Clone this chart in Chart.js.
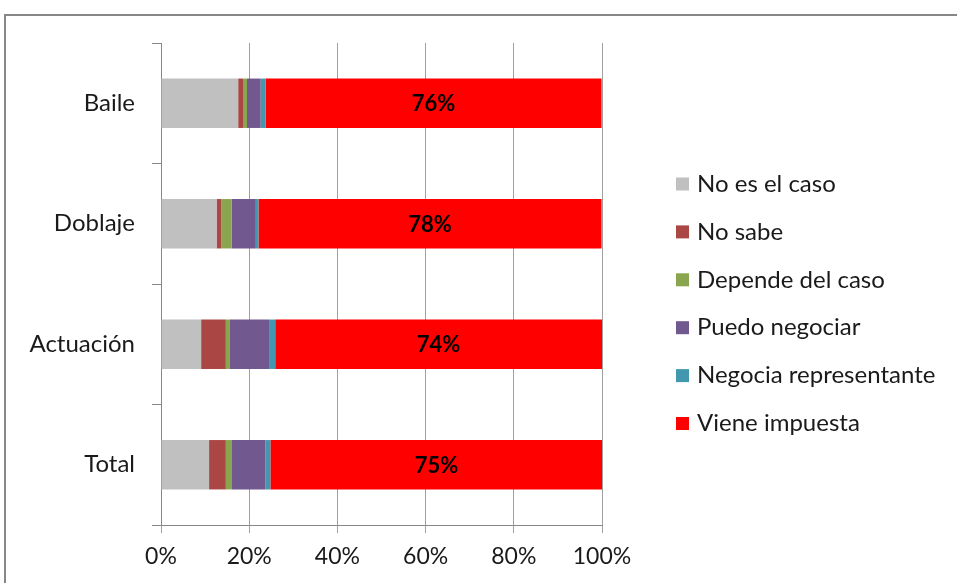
<!DOCTYPE html>
<html>
<head>
<meta charset="utf-8">
<script src="https://cdn.jsdelivr.net/npm/chart.js@4/dist/chart.umd.min.js"></script>
<style>
  html, body { margin: 0; padding: 0; background: #ffffff; overflow: hidden; }
  #wrap { position: absolute; left: 0; top: 0; width: 957px; height: 583px; }
</style>
</head>
<body>
<div id="wrap"><canvas id="c" width="957" height="583"></canvas></div>
<script>
const categories = ['Baile', 'Doblaje', 'Actuación', 'Total'];
const seriesNames = ['No es el caso', 'No sabe', 'Depende del caso', 'Puedo negociar', 'Negocia representante', 'Viene impuesta'];
const noEsElCaso = [17.5, 12.6, 9.1, 10.9];
const noSabe = [1.1, 1.1, 5.6, 3.8];
const dependeDelCaso = [0.9, 2.3, 0.8, 1.4];
const puedoNegociar = [3.1, 5.5, 9.0, 7.6];
const negociaRepresentante = [1.1, 0.6, 1.4, 1.1];
const vieneImpuesta = [76.2, 77.8, 74.1, 75.3];
const xTickValues = [0, 20, 40, 60, 80, 100];

const seriesValues = [noEsElCaso, noSabe, dependeDelCaso, puedoNegociar, negociaRepresentante, vieneImpuesta];
const seriesColors = ['#C0C0C0', '#AA4643', '#89A54E', '#71588F', '#4198AF', '#FF0000'];
const FONT = 'Lato, "Liberation Sans", sans-serif';

const frame = {
  id: 'frame',
  beforeDraw(chart) {
    const ctx = chart.ctx;
    ctx.save();
    ctx.strokeStyle = '#878787';
    ctx.lineWidth = 2;
    ctx.strokeRect(5, 15, 1100, 1100);
    ctx.restore();
  }
};

const barLabels = {
  id: 'barLabels',
  afterDatasetsDraw(chart) {
    const ctx = chart.ctx;
    const idx = chart.data.datasets.length - 1;
    const meta = chart.getDatasetMeta(idx);
    ctx.save();
    ctx.font = 'bold 22px ' + FONT;
    ctx.fillStyle = '#000000';
    ctx.textAlign = 'center';
    ctx.textBaseline = 'middle';
    meta.data.forEach((el, i) => {
      const p = el.getProps(['x', 'y', 'base'], true);
      const v = chart.data.datasets[idx].data[i];
      ctx.fillText(Math.round(v) + '%', (p.x + p.base) / 2, p.y + 1);
    });
    ctx.restore();
  }
};

const legendBox = {
  id: 'legendBox',
  afterDraw(chart) {
    const ctx = chart.ctx;
    ctx.save();
    ctx.font = '24px ' + FONT;
    ctx.textBaseline = 'middle';
    ctx.textAlign = 'left';
    chart.data.datasets.forEach((ds, i) => {
      const cy = 184 + i * 47.9;
      ctx.fillStyle = ds.backgroundColor;
      ctx.fillRect(676, cy - 6.5, 13, 13);
      ctx.fillStyle = '#1a1a1a';
      ctx.fillText(ds.label, 697, cy);
    });
    ctx.restore();
  }
};

new Chart(document.getElementById('c'), {
  type: 'bar',
  data: {
    labels: categories,
    datasets: seriesNames.map((name, i) => ({
      label: name,
      data: seriesValues[i],
      backgroundColor: seriesColors[i],
      borderWidth: 0,
      categoryPercentage: 1,
      barPercentage: 0.41
    }))
  },
  options: {
    indexAxis: 'y',
    responsive: false,
    animation: false,
    layout: { padding: { top: 43, left: 5, right: 355, bottom: 0 } },
    plugins: {
      legend: { display: false },
      tooltip: { enabled: false }
    },
    scales: {
      x: {
        stacked: true,
        min: 0,
        max: 100,
        afterBuildTicks(scale) { scale.ticks = xTickValues.map(v => ({ value: v })); },
        afterFit(scale) { scale.height = 58; },
        ticks: {
          callback: v => v + '%',
          font: { family: FONT, size: 23 },
          color: '#1a1a1a',
          padding: 10,
          maxRotation: 0
        },
        grid: { color: '#A0A0A0', lineWidth: 1, tickLength: 8, drawTicks: true },
        border: { color: '#878787', width: 1 }
      },
      y: {
        stacked: true,
        offset: true,
        afterFit(scale) { scale.width = 156; },
        ticks: {
          font: { family: FONT, size: 24 },
          color: '#1a1a1a',
          padding: 17
        },
        grid: { offset: true, drawOnChartArea: false, drawTicks: true, tickLength: 9, color: '#878787' },
        border: { color: '#878787', width: 1 }
      }
    }
  },
  plugins: [frame, barLabels, legendBox]
});
</script>
</body>
</html>
